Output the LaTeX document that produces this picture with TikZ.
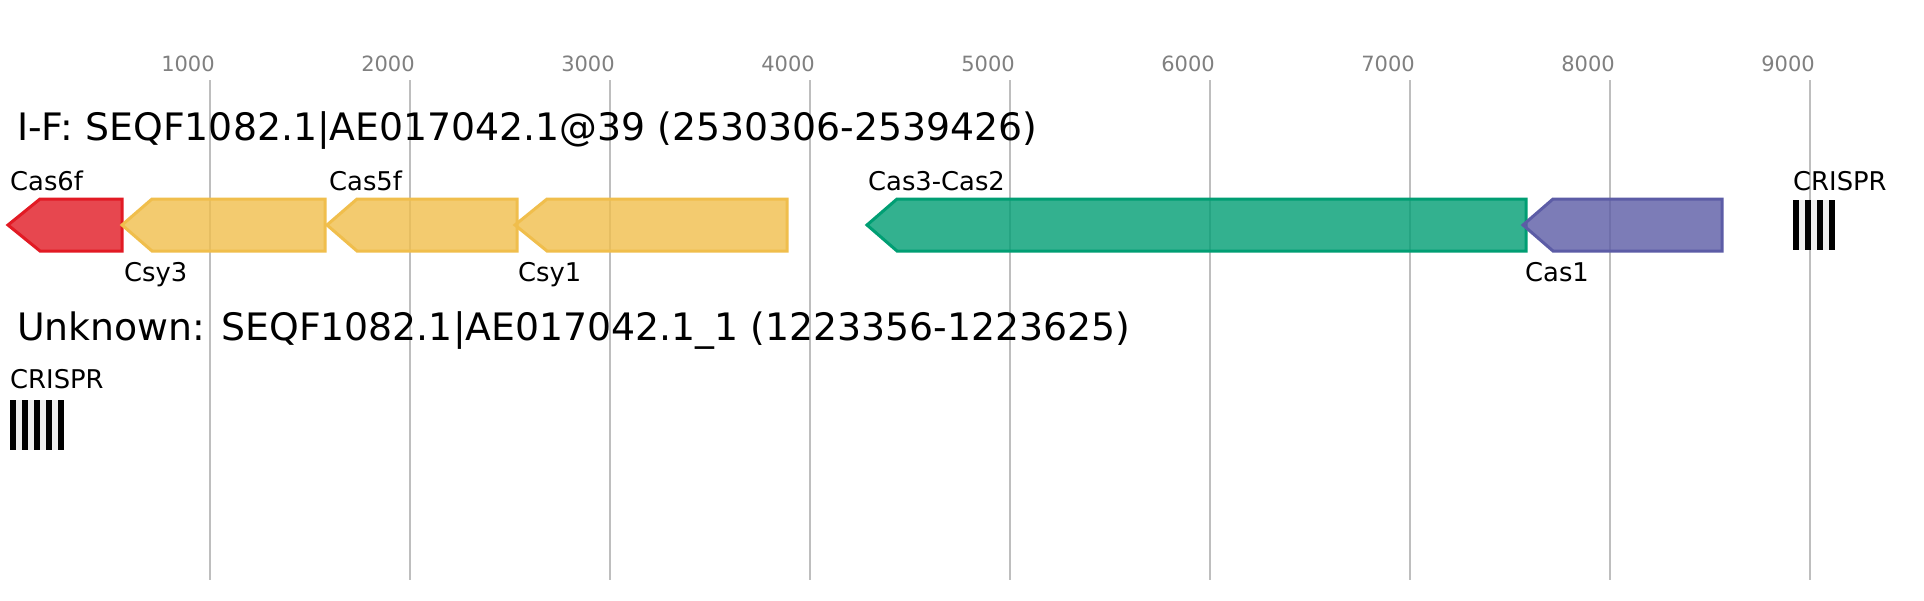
\documentclass[tikz,border=0pt]{standalone}
\usepackage{fontspec}
\setmainfont{DejaVu Sans}

\definecolor{gridgrey}{RGB}{190,190,190}
\definecolor{tickgrey}{RGB}{128,128,128}
\definecolor{casred}{RGB}{226,26,36}
\definecolor{csyyellow}{RGB}{240,190,76}
\definecolor{casgreen}{RGB}{0,158,115}
\definecolor{caspurple}{RGB}{92,92,166}
\definecolor{repeatbg}{RGB}{238,238,238}

\begin{document}
\begin{tikzpicture}[x=1pt,y=-1pt,
    gridline/.style={draw=gridgrey,line width=2pt},
    ticklabel/.style={anchor=base,inner sep=0pt,text=tickgrey,font=\fontsize{21}{25}\selectfont},
    locus/.style={anchor=base west,inner sep=0pt,font=\fontsize{37.8}{45}\selectfont},
    genelabel/.style={anchor=base west,inner sep=0pt,font=\fontsize{25.8}{30}\selectfont},
    gene/.style={line width=3pt,line join=miter,fill opacity=0.8},
    spacer/.style={fill=repeatbg},
    repeatbar/.style={fill=black}]

        \path[use as bounding box,fill=white] (0,0) rectangle (1924,600);

        %\draw [help lines,step=100] (0,0) grid (1924,600);

        % position ruler
        \foreach \k in {1,...,9}{
            \draw[gridline] ({10+200*\k},80) -- ({10+200*\k},580);
            \node[ticklabel] (tick\k) at ({10+200*\k-22},71) {\k000};
        }

        \node[locus] (locusIF) at (17,140) {I-F: SEQF1082.1|AE017042.1@39 (2530306-2539426)};
        \node[locus] (locusUnk) at (17,340) {Unknown: SEQF1082.1|AE017042.1\_1 (1223356-1223625)};

        % genes, all on the minus strand
        \draw[gene,draw=casred,fill=casred] (122,199) -- (40,199) -- (8,225) -- (40,251) -- (122,251) -- cycle;
        \draw[gene,draw=csyyellow,fill=csyyellow] (325,199) -- (152,199) -- (122,225) -- (152,251) -- (325,251) -- cycle;
        \draw[gene,draw=csyyellow,fill=csyyellow] (517,199) -- (357,199) -- (327,225) -- (357,251) -- (517,251) -- cycle;
        \draw[gene,draw=csyyellow,fill=csyyellow] (787,199) -- (547,199) -- (515,225) -- (547,251) -- (787,251) -- cycle;
        \draw[gene,draw=casgreen,fill=casgreen] (1526,199) -- (897,199) -- (867,225) -- (897,251) -- (1526,251) -- cycle;
        \draw[gene,draw=caspurple,fill=caspurple] (1722,199) -- (1553,199) -- (1523,225) -- (1553,251) -- (1722,251) -- cycle;

        \node[genelabel] (lblCasSixF) at (10,190) {Cas6f};
        \node[genelabel] (lblCsyThree) at (124,281) {Csy3};
        \node[genelabel] (lblCasFiveF) at (329,190) {Cas5f};
        \node[genelabel] (lblCsyOne) at (518,281) {Csy1};
        \node[genelabel] (lblCasThreeTwo) at (868,190) {Cas3-Cas2};
        \node[genelabel] (lblCasOne) at (1525,281) {Cas1};

        % CRISPR arrays
        \fill[spacer] (1793,200) rectangle (1835,250);
        \foreach \b in {0,...,3}
            \fill[repeatbar] ({1793+12*\b},200) rectangle ({1799+12*\b},250);
        \node[genelabel] (lblCrisprIF) at (1793,190) {CRISPR};

        \fill[spacer] (10,400) rectangle (64,450);
        \foreach \b in {0,...,4}
            \fill[repeatbar] ({10+12*\b},400) rectangle ({16+12*\b},450);
        \node[genelabel] (lblCrisprUnk) at (10,388) {CRISPR};

\end{tikzpicture}
\end{document}
